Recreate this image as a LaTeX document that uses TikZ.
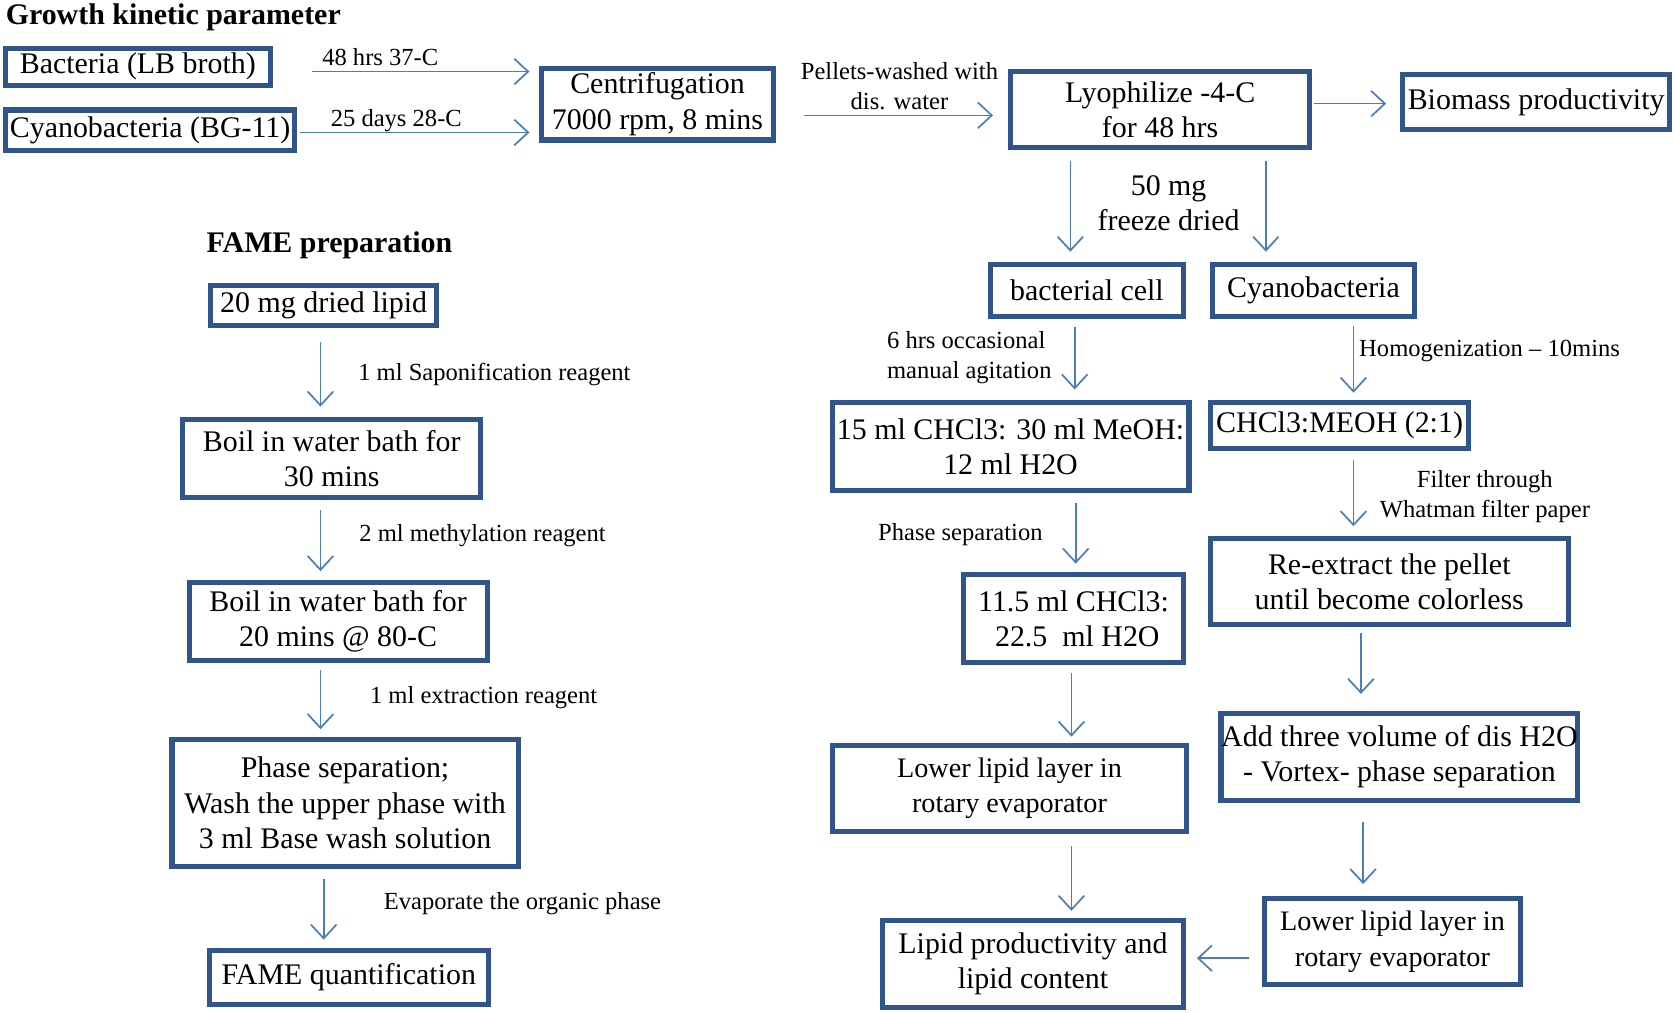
\documentclass[tikz,border=0pt]{standalone}
\usepackage{fontspec}
\setmainfont{Liberation Serif}
\usetikzlibrary{arrows.meta}
\definecolor{boxc}{RGB}{47,85,140}
\definecolor{arrc}{RGB}{74,126,187}
\newcommand\mybox[7][]{\node[box,#1, minimum width={(#5-#3)*0.5pt}, minimum height={(#6-#4)*0.5pt}] (#2) at ({(#3+#5)/2},{(#4+#6)/2}) {#7};}
\begin{document}
\begin{tikzpicture}[x=0.5pt,y=-0.5pt,
 box/.style={draw=boxc, line width=2.4pt, inner sep=0pt, align=center, font=\fontsize{14}{16.5}\selectfont},
 lbl/.style={inner sep=0pt, align=center, font=\fontsize{11.5}{14}\selectfont},
 head/.style={inner sep=0pt, anchor=west, font=\fontsize{14}{16.5}\selectfont\bfseries},
 arr/.style={draw=arrc, line width=0.8pt, -{Straight Barb[length=6.5pt,width=12pt,line width=0.8pt]}}]
\useasboundingbox (0,0) rectangle (1568,948);
% headings
\node[head] (h1) at (5,16) {Growth kinetic parameter};
\node[head] (h2) at (193,230) {FAME preparation};
% top row
\mybox{bact}{5}{45}{253}{80}{Bacteria (LB broth)}
\mybox{cyano}{5}{103}{276}{141}{Cyanobacteria (BG-11)}
\mybox{cent}{507}{64}{724}{131}{Centrifugation\\7000 rpm, 8 mins}
\mybox{lyo}{946}{67}{1226}{138}{Lyophilize -4-C\\for 48 hrs}
\mybox{bio}{1313}{70}{1563}{121}{Biomass productivity}
% right part
\mybox{bcell}{927}{248}{1108}{296}{bacterial cell}
\mybox{cyc}{1135}{248}{1324}{296}{Cyanobacteria}
\mybox{m15}{779}{377}{1113}{459}{15 ml CHCl3: 30 ml MeOH:\\12 ml H2O}
\mybox{chm}{1133}{377}{1375}{420}{CHCl3:MEOH (2:1)}
\mybox{m11}{902}{538}{1108}{620}{11.5 ml CHCl3:\\\ 22.5\ \ ml H2O}
\mybox{rex}{1133}{504}{1468}{585}{Re-extract the pellet\\until become colorless}
\mybox[font=\fontsize{13.2}{16.5}\selectfont]{lowl}{779}{698}{1111}{778}{Lower lipid layer in\\rotary evaporator}
\mybox{add}{1143}{668}{1477}{749}{Add three volume of dis H2O\\- Vortex- phase separation}
\mybox{lip}{826}{862}{1108}{943}{Lipid productivity and\\lipid content}
\mybox[font=\fontsize{13.2}{16.5}\selectfont]{lowr}{1184}{841}{1423}{922}{Lower lipid layer in\\rotary evaporator}
% left part
\mybox{d20}{197}{267}{409}{305}{20 mg dried lipid}
\mybox{b30}{171}{393}{450}{466}{Boil in water bath for\\30 mins}
\mybox{b20}{177}{545}{456}{618}{Boil in water bath for\\20 mins @ 80-C}
\mybox{ph}{161}{692}{485}{811}{Phase separation;\\Wash the upper phase with\\3 ml Base wash solution}
\mybox{fq}{196}{890}{457}{940}{FAME quantification}
% labels
\node[lbl] (l1) at (356,53) {48 hrs 37-C};
\node[lbl] (l2) at (371,113) {25 days 28-C};
\node[lbl] (l3) at (842,81) {Pellets-washed with\\dis. water};
\node[lbl, font=\fontsize{14}{16.5}\selectfont] (l4) at (1094,190) {50 mg\\freeze dried};
\node[lbl, anchor=west, align=left] (l5) at (830,335) {6 hrs occasional\\manual agitation};
\node[lbl, anchor=west] (l6) at (1272,329) {Homogenization -- 10mins};
\node[lbl] (l7) at (1390,465) {Filter through\\Whatman filter paper};
\node[lbl] (l8) at (899,500) {Phase separation};
\node[lbl, anchor=west] (l9) at (335,351) {1 ml Saponification reagent};
\node[lbl, anchor=west] (l10) at (336,501) {2 ml methylation reagent};
\node[lbl, anchor=west] (l11) at (346,653) {1 ml extraction reagent};
\node[lbl, anchor=west] (l12) at (359,846) {Evaporate the organic phase};
% arrows top
\draw[arr] ([shift={(37,4.5)}]bact.east) -- ([shift={(-9,-30.5)}]cent.west);
\draw[arr] ([shift={(2,2)}]cyano.east) -- ([shift={(-9,26.5)}]cent.west);
\draw[arr] ([shift={(26,10.5)}]cent.east) -- ([shift={(-14,5.5)}]lyo.west);
\draw[arr] ([shift={(2,-5.5)}]lyo.east) -- ([shift={(-13,1.5)}]bio.west);
\draw[arr] ([shift={(-84,10)}]lyo.south) -- ([shift={(-15.5,-10)}]bcell.north);
\draw[arr] ([shift={(99,10)}]lyo.south) -- ([shift={(-44.5,-10)}]cyc.north);
% right arrows
\draw[arr] ([shift={(-11.5,8)}]bcell.south) -- ([shift={(60,-10)}]m15.north);
\draw[arr] ([shift={(37.5,7)}]cyc.south) -- ([shift={(13,-7)}]chm.north);
\draw[arr] ([shift={(13,8)}]chm.south) -- ([shift={(-33.5,-9)}]rex.north);
\draw[arr] ([shift={(61,9)}]m15.south) -- ([shift={(2,-8)}]m11.north);
\draw[arr] ([shift={(-26.5,5)}]rex.south) -- ([shift={(-36,-16)}]add.north);
\draw[arr] ([shift={(-2,8)}]m11.south) -- ([shift={(58,-6)}]lowl.north);
\draw[arr] ([shift={(58,12)}]lowl.south) -- ([shift={(36,-7)}]lip.north);
\draw[arr] ([shift={(-34,18)}]add.south) -- ([shift={(-27.5,-11)}]lowr.north);
\draw[arr] ([shift={(-12,15.5)}]lowr.west) -- ([shift={(10,-5.5)}]lip.east);
% left arrows
\draw[arr] ([shift={(-3,13)}]d20.south) -- ([shift={(-10.5,-10)}]b30.north);
\draw[arr] ([shift={(-10.5,9)}]b30.south) -- ([shift={(-16.5,-8)}]b20.north);
\draw[arr] ([shift={(-16.5,7)}]b20.south) -- ([shift={(-23,-7)}]ph.north);
\draw[arr] ([shift={(-20,9)}]ph.south) -- ([shift={(-23.5,-8)}]fq.north);
\end{tikzpicture}
\end{document}
